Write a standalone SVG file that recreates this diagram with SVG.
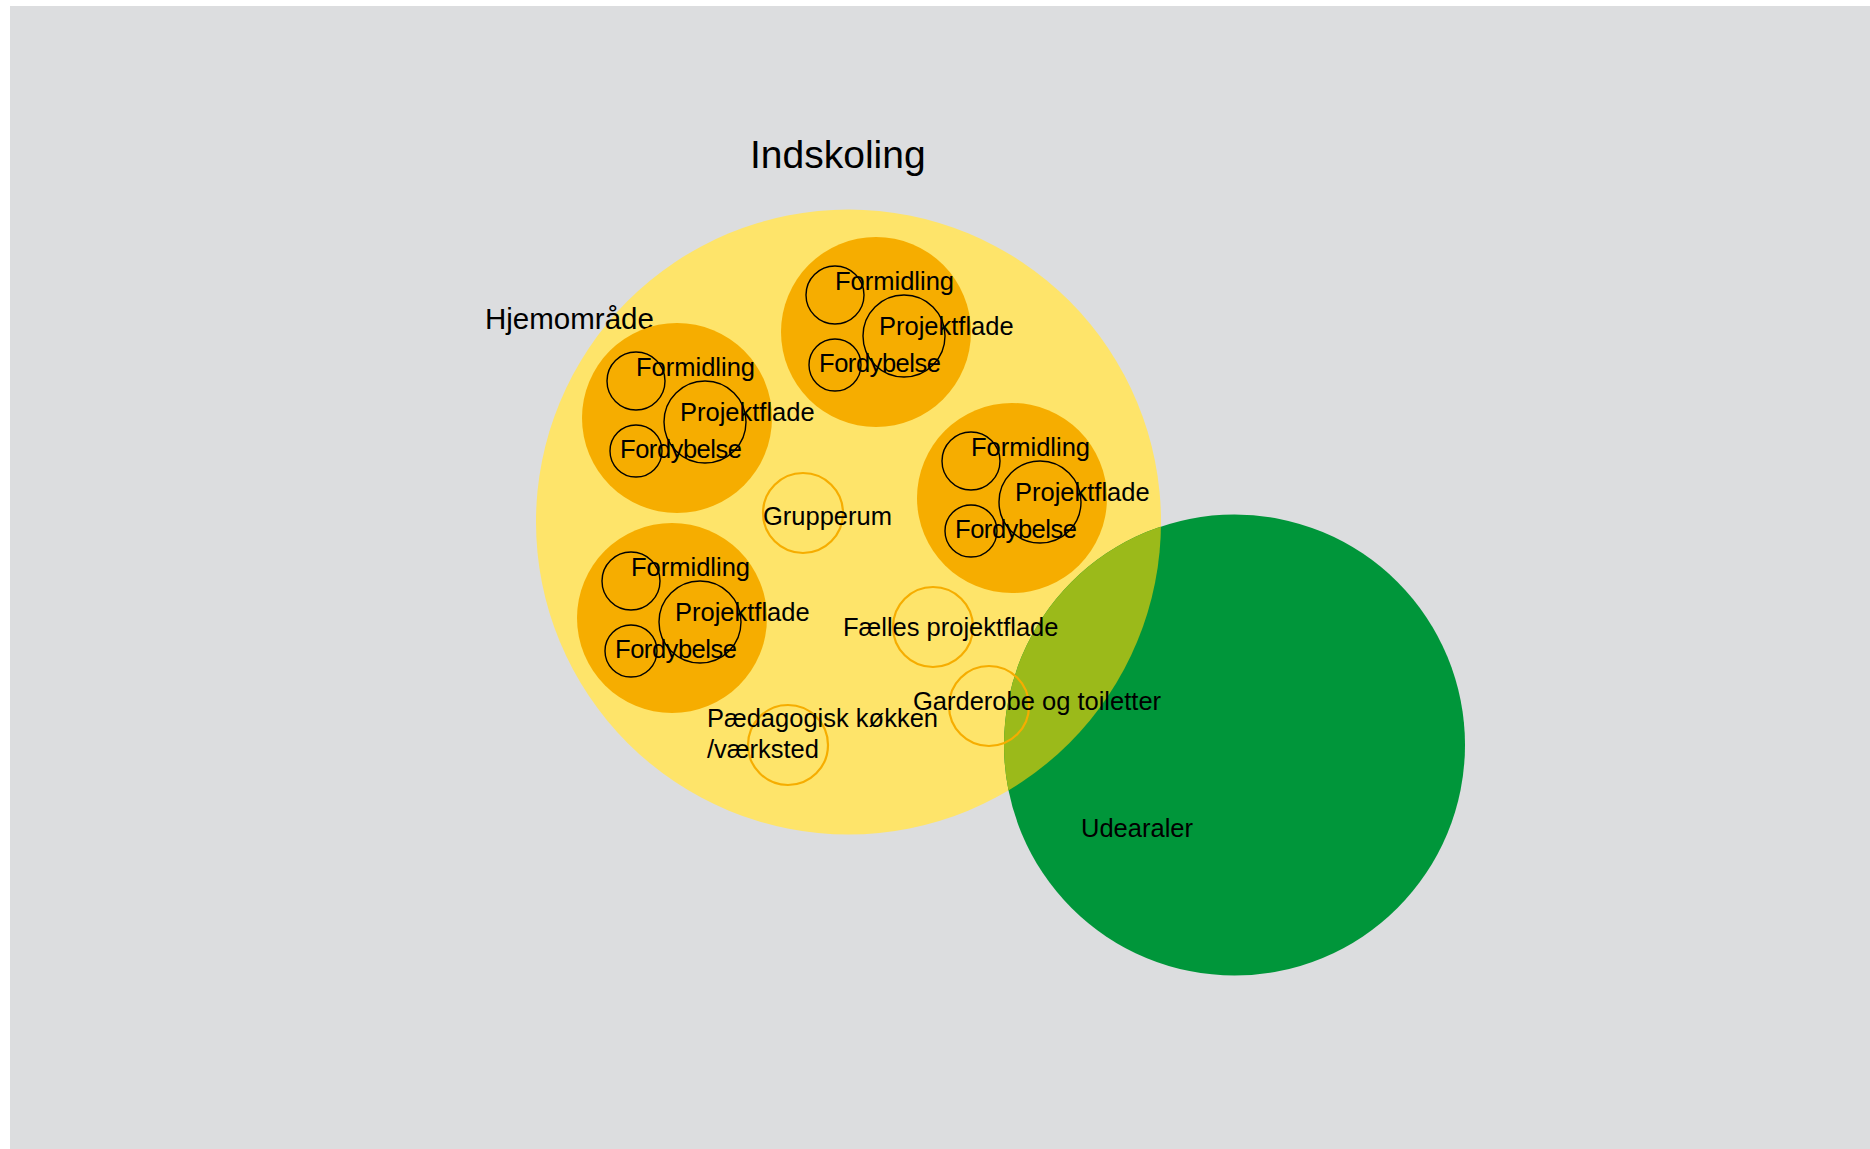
<svg xmlns="http://www.w3.org/2000/svg" width="1870" height="1149" viewBox="0 0 1870 1149">
  <style>
    .lbl { font-family: "Liberation Sans", Arial, sans-serif; font-size: 25.5px; fill: #000; }
    .ttl { font-family: "Liberation Sans", Arial, sans-serif; fill: #000; }
    .home { fill: #f6ad00; }
    .sub { fill: none; stroke: #000; stroke-width: 1.4; }
    .room { fill: none; stroke: #f6ad00; stroke-width: 2.2; }
  </style>
  <defs>
    <clipPath id="greenClip">
      <circle cx="1234.5" cy="745" r="230.5"/>
    </clipPath>
  </defs>
  <rect x="0" y="0" width="1870" height="1149" fill="#ffffff"/>
  <rect x="10" y="6" width="1860" height="1143" fill="#dcdddf"/>

  <g id="indskoling">
    <circle cx="848.5" cy="522" r="312.5" fill="#fee46a"/>
    <text class="ttl" x="750" y="168" font-size="39">Indskoling</text>
    <text class="ttl" x="485" y="329" font-size="29.5">Hjemområde</text>
  </g>

  <g id="hjem-1" transform="translate(677,418)">
    <circle class="home" cx="0" cy="0" r="95"/>
    <circle class="sub" cx="-41" cy="-37" r="29"/>
    <circle class="sub" cx="28" cy="4" r="41"/>
    <circle class="sub" cx="-41" cy="33" r="26"/>
    <text class="lbl" x="-41" y="-42">Formidling</text>
    <text class="lbl" x="3" y="3">Projektflade</text>
    <text class="lbl" x="-57" y="40" textLength="122">Fordybelse</text>
  </g>

  <g id="hjem-2" transform="translate(876,332)">
    <circle class="home" cx="0" cy="0" r="95"/>
    <circle class="sub" cx="-41" cy="-37" r="29"/>
    <circle class="sub" cx="28" cy="4" r="41"/>
    <circle class="sub" cx="-41" cy="33" r="26"/>
    <text class="lbl" x="-41" y="-42">Formidling</text>
    <text class="lbl" x="3" y="3">Projektflade</text>
    <text class="lbl" x="-57" y="40" textLength="122">Fordybelse</text>
  </g>

  <g id="hjem-3" transform="translate(1012,498)">
    <circle class="home" cx="0" cy="0" r="95"/>
    <circle class="sub" cx="-41" cy="-37" r="29"/>
    <circle class="sub" cx="28" cy="4" r="41"/>
    <circle class="sub" cx="-41" cy="33" r="26"/>
    <text class="lbl" x="-41" y="-42">Formidling</text>
    <text class="lbl" x="3" y="3">Projektflade</text>
    <text class="lbl" x="-57" y="40" textLength="122">Fordybelse</text>
  </g>

  <g id="hjem-4" transform="translate(672,618)">
    <circle class="home" cx="0" cy="0" r="95"/>
    <circle class="sub" cx="-41" cy="-37" r="29"/>
    <circle class="sub" cx="28" cy="4" r="41"/>
    <circle class="sub" cx="-41" cy="33" r="26"/>
    <text class="lbl" x="-41" y="-42">Formidling</text>
    <text class="lbl" x="3" y="3">Projektflade</text>
    <text class="lbl" x="-57" y="40" textLength="122">Fordybelse</text>
  </g>

  <g id="udearaler">
    <circle cx="1234.5" cy="745" r="230.5" fill="#00963a"/>
    <circle cx="848.5" cy="522" r="312.5" fill="#9bba1a" clip-path="url(#greenClip)"/>
    <text class="lbl" x="1081" y="837">Udearaler</text>
  </g>

  <g id="grupperum">
    <circle class="room" cx="803" cy="513" r="40"/>
    <text class="lbl" x="763" y="525">Grupperum</text>
  </g>

  <g id="faelles-projektflade">
    <circle class="room" cx="933" cy="627" r="40"/>
    <text class="lbl" x="843" y="636">Fælles projektflade</text>
  </g>

  <g id="garderobe">
    <circle class="room" cx="989" cy="706" r="40"/>
    <text class="lbl" x="913" y="710">Garderobe og toiletter</text>
  </g>

  <g id="paedagogisk-koekken">
    <circle class="room" cx="788" cy="745" r="40"/>
    <text class="lbl" x="707" y="727">Pædagogisk køkken</text>
    <text class="lbl" x="707" y="758">/værksted</text>
  </g>

  <g id="connectors"/>
</svg>
